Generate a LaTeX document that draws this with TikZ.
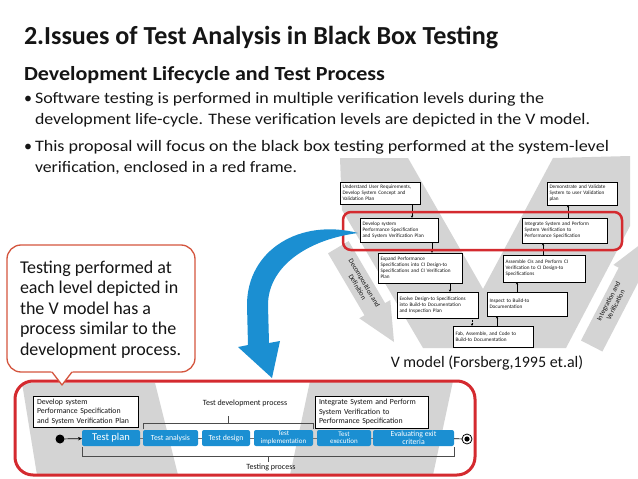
\documentclass[tikz,border=0pt]{standalone}
\usepackage{fontspec}
\setmainfont{Carlito}
\usepackage{graphicx}
\usetikzlibrary{arrows.meta,calc}
\definecolor{vgray}{HTML}{D4D4D4}
\definecolor{framered}{HTML}{D42A2F}
\definecolor{callred}{HTML}{D4553E}
\definecolor{hpblue}{HTML}{1B8FD2}
\definecolor{txt}{HTML}{151515}
\newcommand\fw[2]{\resizebox{#1pt}{\height}{#2}}
\begin{document}
\begin{tikzpicture}[x=1pt,y=-1pt,
  every node/.style={inner sep=0pt,outer sep=0pt,text=txt},
  vbox/.style={draw=black,line width=0.8pt,fill=white,font=\fontsize{5.2}{6}\selectfont,align=left,inner xsep=2.5pt,inner ysep=1pt},
  varr/.style={line width=0.5pt,-{Stealth[length=2.5pt,width=2.2pt]}},
  bbox/.style={draw=black,line width=1pt,fill=white,font=\fontsize{7.8}{9.5}\selectfont,align=left,inner xsep=4pt},
  tbox/.style={fill=hpblue,rounded corners=2pt,text=white,align=center,minimum height=16pt,font=\fontsize{7.8}{7.8}\selectfont},
  brk/.style={draw=black!70,line width=0.7pt},
  conn/.style={draw=black!55,line width=0.7pt},
  lbl/.style={font=\fontsize{8}{9}\selectfont},
  big/.style={font=\fontsize{16}{18}\selectfont,anchor=base west},
  call/.style={font=\fontsize{18}{20}\selectfont,anchor=base west}
]
\useasboundingbox (0,0) rectangle (638,479);
\fill[white] (0,0) rectangle (638,479);

% ---------- heading text ----------
\node[anchor=base west,font=\fontsize{26}{30}\selectfont\bfseries] (title) at (24,44) {\fw{474}{2.Issues of Test Analysis in Black Box Testing}};
\node[anchor=base west,font=\fontsize{20}{24}\selectfont\bfseries] (sub) at (24,80) {\fw{361}{Development Lifecycle and Test Process}};
\node[big] (d1) at (24,103) {\textbullet};
\node[big] (l1) at (35,103) {\fw{509}{Software testing is performed in multiple verification levels during the}};
\node[big] (l2) at (35,124) {\fw{555}{development life-cycle. These verification levels are depicted in the V model.}};
\node[big] (d2) at (24,151) {\textbullet};
\node[big] (l3) at (35,151) {\fw{574}{This proposal will focus on the black box testing performed at the system-level}};
\node[big] (l4) at (35,172) {\fw{262}{verification, enclosed in a red frame.}};

% ---------- V model ----------
\fill[vgray] (340,158) -- (408,158) -- (483,289) -- (553,158) -- (630,156) -- (630,226) -- (566,348) -- (423,348) -- (342,210) -- cycle;
% decomposition arrow
\fill[vgray] (348.6,241.1) -- (385.1,303.1) -- (390.3,300.1) -- (394,342) -- (359.3,318.3) -- (364.5,315.3) -- (328.0,253.3) -- cycle;
\node[font=\fontsize{7}{8}\selectfont,align=center,rotate=-59.6] (dec) at (361,285) {Decomposition and\\Definition};
% integration arrow
\begin{scope}
\clip (0,0) rectangle (638,479);
\fill[vgray] (581.0,340.5) -- (618.7,267.7) -- (613.4,264.9) -- (646.8,239.5) -- (645.4,281.5) -- (640.1,278.7) -- (602.4,351.5) -- cycle;
\end{scope}
\node[font=\fontsize{7}{8}\selectfont,align=center,rotate=62.7] (int) at (612,303) {Integration and\\Verification};

\node[vbox,text width=75,minimum height=22] (u1) at (380,193) {Understand User Requirements,\\Develop System Concept and\\Validation Plan};
\node[vbox,text width=73,minimum height=24] (dv) at (399,230) {Develop system\\Performance Specification\\and System Verification Plan};
\node[vbox,text width=65,minimum height=23] (dm) at (582,193.5) {Demonstrate and Validate\\System to user Validation plan};
\node[vbox,text width=80,minimum height=25] (ig) at (564.5,230.5) {Integrate System and Perform\\System Verification to\\Performance Specification};
\node[vbox,text width=79,minimum height=30] (ex) at (420,268) {Expand Performance\\Specifications into CI Design-to\\Specifications and CI Verification\\Plan};
\node[vbox,text width=77,minimum height=27] (as) at (544,268.5) {Assemble CIs and Perform CI\\Verification to CI Design-to\\Specifications};
\node[vbox,text width=76,minimum height=26] (ev) at (437.5,305) {Evolve Design-to Specifications\\into Build-to Documentation\\and Inspection Plan};
\node[vbox,text width=75,minimum height=24] (in) at (527,304) {Inspect to Build-to\\Documentation};
\node[vbox,text width=75,minimum height=21] (fb) at (493,336.5) {Fab, Assemble, and Code to\\Build-to Documentation};

\draw[varr] (u1.south -| 412,0) -- (dv.north -| 412,0);
\draw[varr] (dv.south -| 432,0) -- (ex.north -| 432,0);
\draw[varr] (ex.south -| 450,0) -- (ev.north -| 450,0);
\draw[varr,densely dotted] (ev.south -| 472,0) -- (fb.north -| 472,0);
\draw[varr] (fb.north -| 497,0) -- (in.south -| 497,0);
\draw[varr] (in.north -| 517,0) -- (as.south -| 517,0);
\draw[varr] (as.north -| 543,0) -- (ig.south -| 543,0);
\draw[varr] (ig.north -| 568,0) -- (dm.south -| 568,0);

\draw[framered,line width=2.5pt,rounded corners=8pt] (343,212) rectangle (622,250);
\node[big,anchor=base] (vcap) at (487,367) {V model (Forsberg,1995 et.al)};

% ---------- blue curved arrow ----------
\fill[hpblue] (358,233) .. controls (300,218) and (247,250) .. (247,305) -- (248,345) -- (238,347) -- (272,378) -- (280,341) -- (269,343) -- (268,305) .. controls (268,268) and (305,240) .. (358,233) -- cycle;

% ---------- bottom process frame ----------
\begin{scope}
\clip[rounded corners=18pt] (15,381) rectangle (475,475);
\fill[vgray] (22,383) -- (155,383) -- (178,475) -- (37,475) -- cycle;
\fill[vgray] (310,381) -- (453,381) -- (433,475) -- (290,475) -- cycle;
\end{scope}
\draw[framered,line width=3pt,rounded corners=18pt] (15,381) rectangle (475,475);

\node[bbox,text width=97,minimum height=31] (bdev) at (85.5,411.5) {Develop system\\Performance Specification\\and System Verification Plan};
\node[bbox,text width=105,minimum height=32] (bint) at (371.5,412) {Integrate System and Perform\\System Verification to\\Performance Specification};

\node[tbox,minimum width=58,font=\fontsize{10.5}{11}\selectfont] (tp) at (111,438) {Test plan};
\node[tbox,minimum width=55] (ta) at (170.5,438) {Test analysis};
\node[tbox,minimum width=48] (td) at (226,438) {Test design};
\node[tbox,minimum width=59,font=\fontsize{7}{7.4}\selectfont] (ti) at (283.5,438) {Test\\implementation};
\node[tbox,minimum width=54,font=\fontsize{7}{7.4}\selectfont] (te) at (344,438) {Test\\execution};
\node[tbox,minimum width=81,font=\fontsize{7.8}{7.8}\selectfont] (tc) at (413.5,438) {Evaluating exit\\criteria};

\draw[conn] (tp.east) -- (ta.west);
\draw[conn] (ta.east) -- (td.west);
\draw[conn] (td.east) -- (ti.west);
\draw[conn] (ti.east) -- (te.west);
\draw[conn] (te.east) -- (tc.west);

\node[circle,fill=black,minimum size=9pt] (st) at (60,439) {};
\draw[line width=0.7pt,-{Stealth[length=4pt,width=3.5pt]}] (st) -- (tp);
\node[circle,draw=black,line width=0.8pt,fill=white,minimum size=10pt] (en) at (467,439) {};
\fill[black] (en.center) circle (2.6pt);
\draw[line width=0.7pt] (tc) -- (en);

\draw[brk] ($(ta.north west)+(0,-1)$) -- ++(0,-6) -| ($(ti.north east)+(0,-1)$);
\draw[brk] (228,423) -- (228,416);
\node[lbl] (tdp) at (245,403) {Test development process};
\draw[brk] ($(tp.south west)+(0,1)$) -- ++(0,9) -| ($(tc.south east)+(0,1)$);
\draw[brk] (268,456) -- (268,462);
\node[lbl] (tpl) at (271,467.5) {Testing process};

% ---------- callout ----------
\draw[callred,line width=1.3pt,fill=white,rounded corners=14pt] (7,245) rectangle (195,372);
\fill[white] (51.2,371) -- (62,385) -- (72.8,371) -- cycle;
\draw[callred,line width=1.3pt,line join=round] (52,372) -- (62,385) -- (72,372);
\node[call] (c1) at (20,273) {Testing performed at};
\node[call] (c2) at (20,293.5) {each level depicted in};
\node[call] (c3) at (20,314) {the V model has a};
\node[call] (c4) at (20,334.5) {process similar to the};
\node[call] (c5) at (20,355) {development process.};
\end{tikzpicture}
\end{document}
